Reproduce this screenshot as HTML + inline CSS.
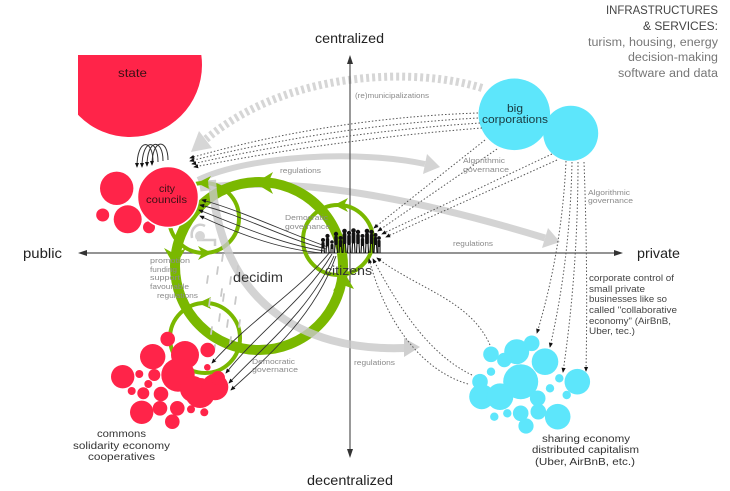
<!DOCTYPE html>
<html><head><meta charset="utf-8"><style>
html,body{margin:0;padding:0;background:#fff;}
svg{display:block;}
text{font-family:"Liberation Sans",sans-serif;}
.s{font-size:7.5px;fill:#8a8a8a;}
</style></head><body>
<svg width="730" height="491" viewBox="0 0 730 491" xmlns="http://www.w3.org/2000/svg">
<defs>
<marker id="a" viewBox="0 0 6 6" refX="5" refY="3" markerWidth="5" markerHeight="5" orient="auto" markerUnits="userSpaceOnUse"><path d="M0,0.5 L6,3 L0,5.5z" fill="#111"/></marker>
<clipPath id="sc"><rect x="78" y="55" width="200" height="200"/></clipPath>
</defs>
<rect width="730" height="491" fill="#fff"/>

<!-- state -->
<circle cx="130" cy="65" r="72" fill="#ff2449" clip-path="url(#sc)"/>

<!-- (re)municipalizations dashed -->
<path d="M482,88 C420,68 290,68 205,140" fill="none" stroke="#d6d6d6" stroke-width="8" stroke-dasharray="3 3"/>
<polygon points="191,152 212,148 199,131" fill="#d6d6d6"/>

<!-- regulations top -->
<path d="M198,180 C250,155 360,150 425,164" fill="none" stroke="#d4d4d4" stroke-width="6"/>
<polygon points="440,167 427,154 423,174" fill="#d4d4d4"/>
<!-- regulations long -->
<path d="M200,188 C300,175 420,200 545,238" fill="none" stroke="#d4d4d4" stroke-width="7"/>
<polygon points="560,242 542,248 548,228" fill="#d4d4d4"/>

<!-- axes -->
<line x1="82" y1="253" x2="618" y2="253" stroke="#555" stroke-width="1.2"/>
<polygon points="78,253 87,250 87,256" fill="#333"/>
<polygon points="623,253 614,250 614,256" fill="#333"/>
<line x1="350" y1="60" x2="350" y2="453" stroke="#555" stroke-width="1.2"/>
<polygon points="350,55 347,64 353,64" fill="#333"/>
<polygon points="350,458 347,449 353,449" fill="#333"/>

<!-- green rings -->
<g fill="none" stroke="#7ab800">
<circle cx="259" cy="266" r="84" stroke-width="10"/>
<circle cx="204" cy="218" r="35" stroke-width="4"/>
<circle cx="338" cy="240" r="35" stroke-width="4"/>
<circle cx="205" cy="338" r="35" stroke-width="4"/>
</g>
<g fill="#7ab800">
<polygon points="255,183 273,172 268,183 273,194"/>
<polygon points="175,267 164,248 175,254 186,248"/>
<polygon points="344,272 333,291 343,285 354,289"/>
<polygon points="197,183 211,176 207,183 211,190"/>
<polygon points="212,253 198,246 202,253 198,260"/>
<polygon points="334,205 348,198 344,205 348,212"/>
<polygon points="198,303 211,297 208,303 211,309"/>
</g>

<!-- grey decidim arc -->
<path d="M212,180 C220,300 300,352 405,348" fill="none" stroke="#c8c8c8" stroke-width="8" opacity="0.8"/>
<polygon points="420,347 404,357 404,338" fill="#cfcfcf"/>

<!-- rain -->
<g stroke="#c9c9c9" stroke-width="1.8" stroke-linecap="round">
<line x1="223" y1="254" x2="222" y2="261"/>
<line x1="218" y1="267" x2="217" y2="274"/>
<line x1="231" y1="277" x2="230" y2="284"/>
<line x1="222" y1="289" x2="221" y2="296"/>
<line x1="210" y1="299" x2="209" y2="306"/>
<line x1="224" y1="294" x2="223" y2="301"/>
<line x1="236" y1="297" x2="235" y2="304"/>
<line x1="220" y1="314" x2="219" y2="321"/>
<line x1="228" y1="320" x2="227" y2="327"/>
<line x1="240" y1="320" x2="239" y2="327"/>
<line x1="212" y1="327" x2="211" y2="334"/>
<line x1="231" y1="337" x2="230" y2="344"/>
<line x1="215" y1="345" x2="214" y2="352"/>
<line x1="238" y1="266" x2="237" y2="273"/>
<line x1="208" y1="276" x2="207" y2="283"/>
</g>
<!-- faucet -->
<g fill="none" stroke="#cfcfcf" stroke-width="2.5">
<path d="M192,238 C190,228 198,222 205,226"/>
<path d="M197,240 L215,240 L215,246"/>
</g>
<circle cx="200" cy="236" r="5" fill="#d6d6d6"/>

<!-- red cluster commons -->
<g fill="#ff2449">
<circle cx="122.7" cy="376.7" r="11.7"/>
<circle cx="152.7" cy="356.7" r="12.7"/>
<circle cx="167.7" cy="339" r="7.3"/>
<circle cx="185" cy="355" r="14"/>
<circle cx="207.7" cy="350" r="7.3"/>
<circle cx="178" cy="375" r="16.7"/>
<circle cx="193" cy="389" r="13"/>
<circle cx="200" cy="393" r="15"/>
<circle cx="215" cy="387" r="13.3"/>
<circle cx="218" cy="378" r="7"/>
<circle cx="154.3" cy="375" r="6"/>
<circle cx="139.3" cy="374" r="4"/>
<circle cx="148.3" cy="384" r="4"/>
<circle cx="131.7" cy="391" r="4"/>
<circle cx="143.3" cy="393.3" r="6"/>
<circle cx="161" cy="394" r="7.3"/>
<circle cx="141.7" cy="412.3" r="11.7"/>
<circle cx="160" cy="408.3" r="7.3"/>
<circle cx="177.3" cy="408.3" r="7.3"/>
<circle cx="172.3" cy="421.7" r="7.3"/>
<circle cx="191" cy="409.3" r="4"/>
<circle cx="204.3" cy="412.3" r="4"/>
<circle cx="207.3" cy="367.3" r="3.3"/>
</g>

<!-- city councils -->
<g fill="#ff2449">
<circle cx="116.7" cy="188.3" r="16.7"/>
<circle cx="127.7" cy="219.3" r="14"/>
<circle cx="102.7" cy="215" r="6.5"/>
<circle cx="149" cy="227.3" r="6"/>
</g>
<circle cx="168" cy="197" r="30.5" fill="#ff2449" stroke="#fff" stroke-width="1.5"/>

<!-- self loops -->
<g fill="none" stroke="#333" stroke-width="1" marker-end="url(#a)">
<path d="M153,162 C153,138 137,138 137,167"/>
<path d="M158,162 C158,138 142,138 142,167"/>
<path d="M163,161 C163,138 147,138 147,166"/>
<path d="M168,160 C168,138 152,138 152,165"/>
</g>

<!-- cyan -->
<g fill="#5de6fb">
<circle cx="514.3" cy="114.3" r="35.8"/>
<circle cx="570.7" cy="133.3" r="27.5"/>
<circle cx="491" cy="354.3" r="7.8"/>
<circle cx="516.7" cy="351.7" r="12.5"/>
<circle cx="531.7" cy="343.3" r="7.8"/>
<circle cx="504.3" cy="360" r="7.2"/>
<circle cx="545" cy="361.7" r="13.3"/>
<circle cx="520.7" cy="381.7" r="17.5"/>
<circle cx="491" cy="371.7" r="4.2"/>
<circle cx="480" cy="381.7" r="7.8"/>
<circle cx="481.7" cy="396.7" r="12.5"/>
<circle cx="500" cy="396.7" r="13.3"/>
<circle cx="537.7" cy="398.3" r="7.8"/>
<circle cx="550" cy="388.3" r="4.2"/>
<circle cx="559.3" cy="378.3" r="4.2"/>
<circle cx="577.3" cy="381.7" r="12.8"/>
<circle cx="566.7" cy="395" r="4.2"/>
<circle cx="557.7" cy="416.7" r="12.8"/>
<circle cx="538.3" cy="411.7" r="7.8"/>
<circle cx="520.7" cy="413.3" r="7.8"/>
<circle cx="526" cy="426" r="7.6"/>
<circle cx="507.3" cy="413.3" r="4.2"/>
<circle cx="494.3" cy="416.7" r="4.2"/>
</g>

<!-- dotted lines -->
<g fill="none" stroke="#555" stroke-width="1" stroke-dasharray="1.5 2" marker-end="url(#a)">
<path d="M478,113 Q330,118 190,158"/>
<path d="M478,118 Q330,126 190,161"/>
<path d="M480,123 Q330,133 192,164"/>
<path d="M482,128 Q340,139 194,167"/>
<path d="M485,140 L374,228"/>
<path d="M497,149 L378,231"/>
<path d="M552,154 L382,234"/>
<path d="M557,160 L386,237"/>
<path d="M566,161 Q562,250 537,333"/>
<path d="M572,162 Q570,260 550,347"/>
<path d="M578,162 Q578,270 563,372"/>
<path d="M584,162 Q588,270 586,371"/>
<path d="M490,345 C470,300 420,290 377,258"/>
<path d="M472,375 C430,355 400,310 373,259"/>
<path d="M468,384 C420,370 385,320 369,259"/>
</g>

<!-- black solid lines -->
<g fill="none" stroke="#333" stroke-width="0.9" marker-end="url(#a)">
<path d="M328,247 C290,234 240,210 202,200"/>
<path d="M326,249 C285,239 240,214 200,205"/>
<path d="M324,251 C280,244 235,224 199,210"/>
<path d="M322,253 C275,249 230,230 200,216"/>
<path d="M330,252 C300,290 250,320 212,363"/>
<path d="M332,254 C305,300 260,330 226,373"/>
<path d="M334,256 C310,310 265,345 229,383"/>
<path d="M336,256 C315,315 270,355 231,390"/>
</g>

<!-- citizens crowd -->
<g fill="#111" stroke="#111" stroke-width="1.1">
<circle cx="323" cy="240" r="2" stroke="none"/><rect x="321.4" y="242" width="3.2" height="6" rx="1" stroke="none"/><path d="M322,247 L321.5,253 M324,247 L324.5,253" fill="none"/>
<circle cx="327.5" cy="236" r="2.1" stroke="none"/><rect x="325.8" y="238" width="3.4" height="8" rx="1" stroke="none"/><path d="M326.5,245 L326,253 M328.5,245 L329,253" fill="none"/>
<circle cx="332" cy="242" r="1.8" stroke="none"/><rect x="330.5" y="244" width="3" height="5" rx="1" stroke="none"/><path d="M331,248 L331,253 M333,248 L333,253" fill="none"/>
<circle cx="336" cy="234" r="2.2" stroke="none"/><rect x="334.2" y="236" width="3.6" height="9" rx="1" stroke="none"/><path d="M335,244 L334.5,253 M337,244 L337.5,253" fill="none"/>
<circle cx="340.5" cy="238" r="2" stroke="none"/><rect x="338.8" y="240" width="3.4" height="7" rx="1" stroke="none"/><path d="M339.5,246 L339,253 M341.5,246 L342,253" fill="none"/>
<circle cx="344.5" cy="231" r="2.3" stroke="none"/><rect x="342.6" y="233" width="3.8" height="11" rx="1" stroke="none"/><path d="M343.5,243 L343,253 M345.5,243 L346,253" fill="none"/>
<circle cx="349" cy="233" r="2.1" stroke="none"/><rect x="347.2" y="235" width="3.6" height="10" rx="1" stroke="none"/><path d="M348,244 L347.5,253 M350,244 L350.5,253" fill="none"/>
<circle cx="353.5" cy="230.5" r="2.3" stroke="none"/><rect x="351.6" y="232.5" width="3.8" height="11" rx="1" stroke="none"/><path d="M352.5,243 L352,253 M354.5,243 L355,253" fill="none"/>
<circle cx="358" cy="232" r="2.2" stroke="none"/><rect x="356.2" y="234" width="3.6" height="10" rx="1" stroke="none"/><path d="M357,243 L356.5,253 M359,243 L359.5,253" fill="none"/>
<circle cx="362.5" cy="236" r="2" stroke="none"/><rect x="360.8" y="238" width="3.4" height="8" rx="1" stroke="none"/><path d="M361.5,245 L361,253 M363.5,245 L364,253" fill="none"/>
<circle cx="367" cy="231" r="2.3" stroke="none"/><rect x="365.1" y="233" width="3.8" height="11" rx="1" stroke="none"/><path d="M366,243 L365.5,253 M368,243 L368.5,253" fill="none"/>
<circle cx="371.5" cy="232" r="2.2" stroke="none"/><rect x="369.7" y="234" width="3.6" height="10" rx="1" stroke="none"/><path d="M370.5,243 L370,253 M372.5,243 L373,253" fill="none"/>
<circle cx="375.5" cy="235" r="2" stroke="none"/><rect x="373.8" y="237" width="3.4" height="8" rx="1" stroke="none"/><path d="M374.5,244 L374,253 M376.5,244 L377,253" fill="none"/>
<circle cx="379" cy="238" r="1.9" stroke="none"/><rect x="377.4" y="240" width="3.2" height="7" rx="1" stroke="none"/><path d="M378,246 L378,253 M380,246 L380,253" fill="none"/>
</g>

<!-- main labels -->
<g fill="#222" font-size="14">
<text x="315" y="43" textLength="69" lengthAdjust="spacingAndGlyphs">centralized</text>
<text x="23" y="258" textLength="39" lengthAdjust="spacingAndGlyphs">public</text>
<text x="637" y="258" textLength="43" lengthAdjust="spacingAndGlyphs">private</text>
<text x="307" y="485" textLength="86" lengthAdjust="spacingAndGlyphs">decentralized</text>
</g>
<g text-anchor="end">
<text x="718" y="14" font-size="12" fill="#444" textLength="112" lengthAdjust="spacingAndGlyphs">INFRASTRUCTURES</text>
<text x="718" y="30" font-size="12" fill="#444" textLength="75" lengthAdjust="spacingAndGlyphs">&amp; SERVICES:</text>
<text x="718" y="46" font-size="11.5" fill="#777" textLength="130" lengthAdjust="spacingAndGlyphs">turism, housing, energy</text>
<text x="718" y="61" font-size="11.5" fill="#777" textLength="90" lengthAdjust="spacingAndGlyphs">decision-making</text>
<text x="718" y="77" font-size="11.5" fill="#777" textLength="100" lengthAdjust="spacingAndGlyphs">software and data</text>
</g>

<text x="118" y="77" font-size="12" fill="#3a1015" textLength="29" lengthAdjust="spacingAndGlyphs">state</text>
<text x="159" y="192" font-size="10" fill="#3a1015" textLength="16" lengthAdjust="spacingAndGlyphs">city</text>
<text x="146" y="203" font-size="10" fill="#3a1015" textLength="41" lengthAdjust="spacingAndGlyphs">councils</text>
<text x="507" y="112" font-size="11" fill="#1a3a40" textLength="16" lengthAdjust="spacingAndGlyphs">big</text>
<text x="482" y="123" font-size="11" fill="#1a3a40" textLength="66" lengthAdjust="spacingAndGlyphs">corporations</text>

<text x="325" y="275" font-size="13" fill="#333" textLength="47" lengthAdjust="spacingAndGlyphs">citizens</text>
<text x="233" y="282" font-size="14" fill="#333" textLength="50" lengthAdjust="spacingAndGlyphs">decidim</text>

<g font-size="10" fill="#333">
<text x="97" y="437" textLength="49" lengthAdjust="spacingAndGlyphs">commons</text>
<text x="73" y="449" textLength="97" lengthAdjust="spacingAndGlyphs">solidarity economy</text>
<text x="88" y="460" textLength="67" lengthAdjust="spacingAndGlyphs">cooperatives</text>
<text x="542" y="442" textLength="88" lengthAdjust="spacingAndGlyphs">sharing economy</text>
<text x="532" y="453" textLength="107" lengthAdjust="spacingAndGlyphs">distributed capitalism</text>
<text x="535" y="465" textLength="100" lengthAdjust="spacingAndGlyphs">(Uber, AirBnB, etc.)</text>
</g>
<g font-size="9" fill="#444">
<text x="589" y="281" textLength="85" lengthAdjust="spacingAndGlyphs">corporate control of</text>
<text x="589" y="292" textLength="56" lengthAdjust="spacingAndGlyphs">small private</text>
<text x="589" y="302" textLength="78" lengthAdjust="spacingAndGlyphs">businesses like so</text>
<text x="589" y="313" textLength="88" lengthAdjust="spacingAndGlyphs">called "collaborative</text>
<text x="589" y="324" textLength="82" lengthAdjust="spacingAndGlyphs">economy" (AirBnB,</text>
<text x="589" y="334" textLength="46" lengthAdjust="spacingAndGlyphs">Uber, tec.)</text>
</g>

<!-- small grey labels -->
<text class="s" x="355" y="98" textLength="74" lengthAdjust="spacingAndGlyphs">(re)municipalizations</text>
<text class="s" x="280" y="173" textLength="41" lengthAdjust="spacingAndGlyphs">regulations</text>
<text class="s" x="463" y="163" textLength="42" lengthAdjust="spacingAndGlyphs">Algorithmic</text>
<text class="s" x="463" y="172" textLength="46" lengthAdjust="spacingAndGlyphs">governance</text>
<text class="s" x="588" y="195" textLength="42" lengthAdjust="spacingAndGlyphs">Algorithmic</text>
<text class="s" x="588" y="203" textLength="45" lengthAdjust="spacingAndGlyphs">governance</text>
<text class="s" x="453" y="246" textLength="40" lengthAdjust="spacingAndGlyphs">regulations</text>
<text class="s" x="285" y="220" textLength="43" lengthAdjust="spacingAndGlyphs">Democratic</text>
<text class="s" x="285" y="229" textLength="45" lengthAdjust="spacingAndGlyphs">governance</text>
<text class="s" x="150" y="263" textLength="40" lengthAdjust="spacingAndGlyphs">promotion</text>
<text class="s" x="150" y="272" textLength="27" lengthAdjust="spacingAndGlyphs">funding</text>
<text class="s" x="150" y="280" textLength="30" lengthAdjust="spacingAndGlyphs">support</text>
<text class="s" x="150" y="289" textLength="39" lengthAdjust="spacingAndGlyphs">favourable</text>
<text class="s" x="157" y="298" textLength="41" lengthAdjust="spacingAndGlyphs">regulations</text>
<text class="s" x="252" y="364" textLength="43" lengthAdjust="spacingAndGlyphs">Democratic</text>
<text class="s" x="252" y="372" textLength="46" lengthAdjust="spacingAndGlyphs">governance</text>
<text class="s" x="354" y="365" textLength="41" lengthAdjust="spacingAndGlyphs">regulations</text>
</svg>
</body></html>
